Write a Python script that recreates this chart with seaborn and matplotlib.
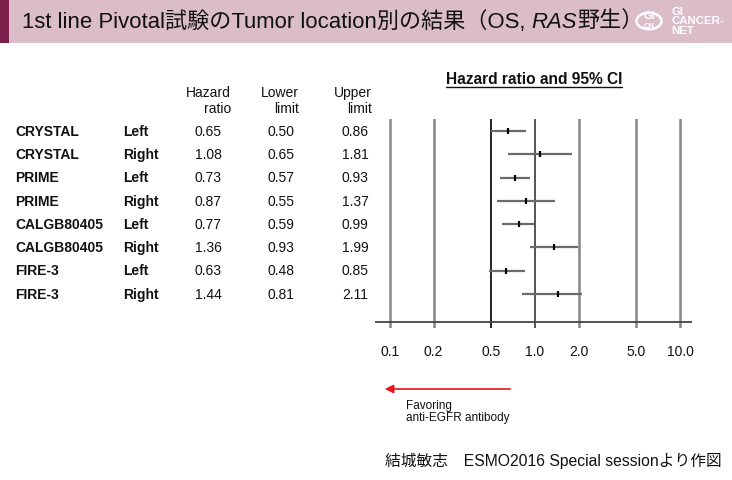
import matplotlib
matplotlib.use("Agg")
import matplotlib.pyplot as plt
from matplotlib import transforms
from matplotlib.patches import Rectangle, Circle, FancyArrowPatch
from matplotlib.lines import Line2D
from matplotlib.ticker import NullLocator
import seaborn as sns
import pandas as pd

# ---------------- data ----------------
studies = ["CRYSTAL", "CRYSTAL", "PRIME", "PRIME",
           "CALGB80405", "CALGB80405", "FIRE-3", "FIRE-3"]
sides = ["Left", "Right", "Left", "Right", "Left", "Right", "Left", "Right"]
hazard_ratio = [0.65, 1.08, 0.73, 0.87, 0.77, 1.36, 0.63, 1.44]
lower_limit = [0.50, 0.65, 0.57, 0.55, 0.59, 0.93, 0.48, 0.81]
upper_limit = [0.86, 1.81, 0.93, 1.37, 0.99, 1.99, 0.85, 2.11]
tick_values = [0.1, 0.2, 0.5, 1.0, 2.0, 5.0, 10.0]
tick_labels = ["0.1", "0.2", "0.5", "1.0", "2.0", "5.0", "10.0"]

title_parts = ["1st line Pivotal試験のTumor location別の結果（OS, ", "RAS", "野生）"]
plot_title = "Hazard ratio and 95% CI"
col_headers = ["Hazard\nratio", "Lower\nlimit", "Upper\nlimit"]
favor_text = "Favoring\nanti-EGFR antibody"
source_text = "結城敏志　ESMO2016 Special sessionより作図"

df = pd.DataFrame({
    "study": studies, "side": sides, "hr": hazard_ratio,
    "lower": lower_limit, "upper": upper_limit,
    "row": list(range(len(studies))),
})

# ---------------- figure ----------------
sns.set_theme(style="white")
plt.rcParams["font.family"] = ["Liberation Sans", "Noto Sans CJK JP"]

W, H = 732, 480
fig = plt.figure(figsize=(W / 100, H / 100), dpi=100)
fig.patch.set_facecolor("white")


def fx(x):
    return x / W


def fy(y):
    return 1 - y / H


# header bar
fig.patches.append(Rectangle((0, fy(43)), 1, 43 / H, transform=fig.transFigure,
                             facecolor="#dbbdca", edgecolor="none", zorder=0))
fig.patches.append(Rectangle((0, fy(43)), 9 / W, 43 / H, transform=fig.transFigure,
                             facecolor="#7c2049", edgecolor="none", zorder=1))

# title with italic RAS
renderer = fig.canvas.get_renderer()
x = fx(22)
for i, part in enumerate(title_parts):
    t = fig.text(x, fy(22), part, fontsize=15.9, va="center", ha="left",
                 style="italic" if i == 1 else "normal", color="#111111")
    bb = t.get_window_extent(renderer=renderer)
    x += bb.width / W

# logo
fig.patches.append(Circle((fx(649), fy(21)), 12.5 / W, transform=fig.transFigure,
                          facecolor="none", edgecolor="white", lw=1.8, zorder=2))
fig.text(fx(649), fy(16), "GI", color="white", fontsize=8, weight="bold",
         ha="center", va="center")
fig.text(fx(649), fy(27), "CN", color="white", fontsize=5.5, weight="bold",
         ha="center", va="center")
fig.text(fx(671), fy(21.5), "GI\nCANCER-\nNET", color="white", fontsize=8.2,
         weight="bold", ha="left", va="center", linespacing=0.92)

# forest axes
ax = fig.add_axes([fx(375), fy(328), (692 - 375) / W, (328 - 119) / H])
ax.patch.set_alpha(0)
ax.set_xscale("log")
ax.set_xlim(0.0788, 12.1)
ax.set_ylim(8.455, -0.515)

for v in tick_values:
    if v == 0.5:
        ax.axvline(v, color="black", lw=1.2, zorder=1)
    elif v == 1.0:
        ax.axvline(v, color="#555555", lw=1.4, zorder=1)
    else:
        ax.axvline(v, color="#868686", lw=1.8, zorder=1)
ax.axhline(8.197, color="#444444", lw=1.3, zorder=1)

ax.hlines(df["row"], df["lower"], df["upper"], color="#6a6a6a", lw=1.6, zorder=2)
sns.scatterplot(data=df, x="hr", y="row", marker="|", s=22, color="black",
                linewidth=1.6, ax=ax, legend=False, zorder=3)

ax.set_xticks(tick_values)
ax.set_xticklabels(tick_labels)
ax.xaxis.set_minor_locator(NullLocator())
ax.tick_params(axis="x", length=0, pad=12.5, labelsize=10, colors="#111111")
ax.set_yticks([])
ax.set_xlabel("")
ax.set_ylabel("")
for s in ax.spines.values():
    s.set_visible(False)

# table text aligned to the rows
trans = transforms.blended_transform_factory(fig.transFigure, ax.transData)
fs = 10
for _, r in df.iterrows():
    y = r["row"] + 0.03
    fig.text(fx(15), y, r["study"], transform=trans, fontsize=fs,
             weight="bold", va="center", ha="left", color="#111111")
    fig.text(fx(123), y, r["side"], transform=trans, fontsize=fs,
             weight="bold", va="center", ha="left", color="#111111")
    fig.text(fx(208), y, f"{r['hr']:.2f}", transform=trans, fontsize=fs,
             va="center", ha="center", color="#111111")
    fig.text(fx(281), y, f"{r['lower']:.2f}", transform=trans, fontsize=fs,
             va="center", ha="center", color="#111111")
    fig.text(fx(355), y, f"{r['upper']:.2f}", transform=trans, fontsize=fs,
             va="center", ha="center", color="#111111")

for hx, lab in zip([231, 299, 372], col_headers):
    fig.text(fx(hx), fy(101), lab, fontsize=fs, ha="right", va="center",
             multialignment="right", linespacing=1.12, color="#111111")

# forest title underlined
tt = fig.text(fx(534), fy(80), plot_title, fontsize=11.2, weight="bold",
              ha="center", va="center", color="#111111")
bb = tt.get_window_extent(renderer=renderer)
fig.add_artist(Line2D([bb.x0 / W, bb.x1 / W], [bb.y0 / H + 0.002, bb.y0 / H + 0.002],
                      transform=fig.transFigure, color="#111111", lw=1.0))

# favoring arrow
fig.add_artist(FancyArrowPatch(
    (fx(513), fy(389)), (fx(382), fy(389)), transform=fig.transFigure,
    arrowstyle="-|>,head_length=5,head_width=2.5", color="#e8141c", lw=1.2))
fig.text(fx(406), fy(412), favor_text, fontsize=8.5, ha="left", va="center",
         linespacing=1.1, color="#111111")

# source
fig.text(fx(385), fy(461), source_text, fontsize=11.3, ha="left", va="center",
         color="#111111")

fig.savefig("out.png", dpi=100)
